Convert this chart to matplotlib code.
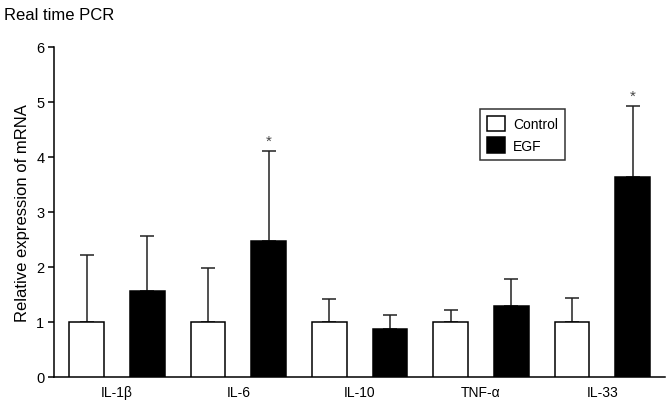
import matplotlib
matplotlib.use("Agg")
import matplotlib.pyplot as plt
import numpy as np
from matplotlib.patches import Patch

plt.rcParams['font.family'] = ['Liberation Sans', 'DejaVu Sans']

categories = ["IL-1β", "IL-6", "IL-10", "TNF-α", "IL-33"]
control_mean = [1.0, 1.0, 1.0, 1.0, 1.0]
control_err = [1.22, 0.98, 0.41, 0.22, 0.44]
egf_mean = [1.56, 2.47, 0.87, 1.29, 3.63]
egf_err = [1.01, 1.64, 0.26, 0.49, 1.30]
egf_sig = [False, True, False, False, True]

fig = plt.figure(figsize=(6.66, 4.06), dpi=100)
ax = fig.add_axes([0.0811, 0.069, 0.918, 0.8128])

x = np.arange(len(categories))
w = 0.285
off = 0.25
ax.bar(x - off, control_mean, w, color='white', edgecolor='black', linewidth=1.1, zorder=3)
ax.bar(x + off, egf_mean, w, color='black', edgecolor='black', linewidth=1.1, zorder=3)
ax.errorbar(x - off, control_mean, yerr=[np.zeros(len(x)), control_err], fmt='none',
            ecolor='#222222', elinewidth=1.1, capsize=5, capthick=1.1, zorder=2)
ax.errorbar(x + off, egf_mean, yerr=[np.zeros(len(x)), egf_err], fmt='none',
            ecolor='#222222', elinewidth=1.1, capsize=5, capthick=1.1, zorder=2)
for xi, m, e, s in zip(x, egf_mean, egf_err, egf_sig):
    if s:
        ax.text(xi + off, m + e + 0.05, '*', ha='center', va='bottom', fontsize=11, color='#444444')

ax.set_xlim(-0.52, 4.52)
ax.set_ylim(0, 6)
ax.set_yticks(range(7))
ax.set_xticks(x)
ax.set_xticklabels(categories, fontsize=10)
ax.tick_params(axis='x', length=0, pad=6)
ax.tick_params(axis='y', length=4, width=1.1, labelsize=10.5, pad=3)
for sp in ['top', 'right']:
    ax.spines[sp].set_visible(False)
for sp in ['left', 'bottom']:
    ax.spines[sp].set_linewidth(1.1)
ax.set_ylabel('Relative expression of mRNA', fontsize=12, labelpad=4)

handles = [Patch(facecolor='white', edgecolor='black', linewidth=1.1, label='Control'),
           Patch(facecolor='black', edgecolor='black', linewidth=1.1, label='EGF')]
leg = ax.legend(handles=handles, loc='upper left', bbox_to_anchor=(0.685, 0.833),
                fontsize=10, frameon=True, fancybox=False, edgecolor='black',
                handlelength=1.3, handleheight=1.3, borderpad=0.5, labelspacing=0.45,
                handletextpad=0.6)
leg.get_frame().set_linewidth(1.1)

fig.text(0.006, 0.963, 'Real time PCR', fontsize=12, ha='left', va='center')

fig.savefig('out.png', dpi=100)
